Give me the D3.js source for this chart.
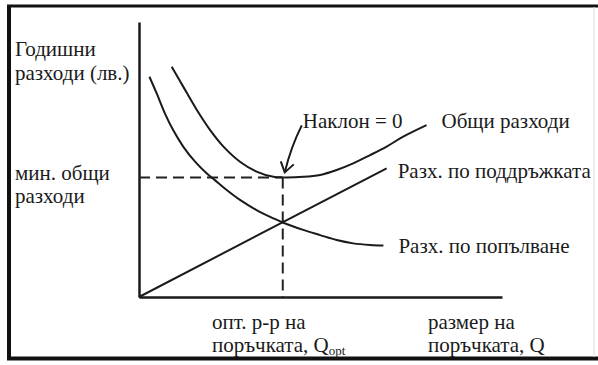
<!DOCTYPE html>
<html>
<head>
<meta charset="utf-8">
<script src="https://cdn.jsdelivr.net/npm/d3@7"></script>
<style>
  html, body { margin: 0; padding: 0; background: #fff; }
  svg { display: block; }
</style>
</head>
<body>
<div id="chart"></div>
<script>
// Q (order size) on x, annual cost on y
var totalQ = [0.91, 1.23, 1.61, 1.98, 2.35, 2.81, 3.27, 3.74, 4.00, 4.57, 5.04, 5.50, 5.96, 6.43, 6.89, 7.35, 8.00];
var totalC = [8.37, 7.65, 6.80, 6.07, 5.47, 4.92, 4.56, 4.37, 4.35, 4.37, 4.44, 4.62, 4.86, 5.16, 5.47, 5.83, 6.25];

var orderQ = [0.29, 0.49, 0.72, 0.95, 1.23, 1.56, 1.88, 2.11, 2.44, 2.81, 3.27, 3.74, 4.00, 4.57, 5.04, 5.50, 5.96, 6.43, 6.80];
var orderC = [8.01, 7.41, 6.68, 6.07, 5.47, 4.92, 4.50, 4.25, 3.89, 3.53, 3.16, 2.86, 2.71, 2.44, 2.25, 2.07, 1.95, 1.89, 1.87];

var holdQ = [0, 6.89];
var holdC = [0, 4.68];

var qOpt = 4.0;
var minTotal = 4.35;

var yLabelLines = ['Годишни', 'разходи (лв.)'];
var minLabelLines = ['мин. общи', 'разходи'];
var optLabelLines = ['опт. р-р на', 'поръчката, Q'];
var xLabelLines = ['размер на', 'поръчката, Q'];

(function () {
    var W = 598, H = 365;
    var FONT = '"Liberation Serif", "Times New Roman", serif';

    var svg = d3.select('#chart').append('svg')
        .attr('width', W)
        .attr('height', H);

    // frame
    svg.append('line').attr('x1', 9).attr('x2', 9).attr('y1', 5).attr('y2', 360)
        .attr('stroke', '#111').attr('stroke-width', 4);
    svg.append('line').attr('x1', 7).attr('x2', 598).attr('y1', 6).attr('y2', 6)
        .attr('stroke', '#111').attr('stroke-width', 3);
    svg.append('line').attr('x1', 7).attr('x2', 598).attr('y1', 358.5).attr('y2', 358.5)
        .attr('stroke', '#111').attr('stroke-width', 4);
    svg.append('line').attr('x1', 594).attr('x2', 594).attr('y1', 7).attr('y2', 357)
        .attr('stroke', '#ddd').attr('stroke-width', 1);

    var x = d3.scaleLinear().domain([0, 10.1]).range([139, 502]);
    var y = d3.scaleLinear().domain([0, 10]).range([297, 22]);

    // axes without ticks
    var gx = svg.append('g')
        .attr('transform', 'translate(0,' + y(0) + ')')
        .call(d3.axisBottom(x).ticks(0).tickSizeOuter(0));
    var gy = svg.append('g')
        .attr('transform', 'translate(' + x(0) + ',0)')
        .call(d3.axisLeft(y).ticks(0).tickSizeOuter(0));
    [gx, gy].forEach(function (g) {
        g.select('.domain').attr('stroke', '#1a1a1a').attr('stroke-width', 2.5);
    });

    // dashed guides
    svg.append('line')
        .attr('x1', x(0)).attr('x2', x(qOpt))
        .attr('y1', y(minTotal)).attr('y2', y(minTotal))
        .attr('stroke', '#222').attr('stroke-width', 2).attr('stroke-dasharray', '11,6');
    svg.append('line')
        .attr('x1', x(qOpt)).attr('x2', x(qOpt))
        .attr('y1', y(minTotal)).attr('y2', y(0))
        .attr('stroke', '#222').attr('stroke-width', 2).attr('stroke-dasharray', '11,6');

    var line = d3.line()
        .curve(d3.curveCatmullRom.alpha(0.5))
        .x(function (d) { return x(d[0]); })
        .y(function (d) { return y(d[1]); });

    function zip(a, b) { return a.map(function (v, i) { return [v, b[i]]; }); }

    var total = zip(totalQ, totalC);
    var order = zip(orderQ, orderC);
    var hold = zip(holdQ, holdC);

    [total, order, hold].forEach(function (s) {
        svg.append('path')
            .datum(s)
            .attr('fill', 'none')
            .attr('stroke', '#1a1a1a')
            .attr('stroke-width', 2)
            .attr('d', line);
    });

    function label(x0, y0) {
        return svg.append('text')
            .attr('x', x0).attr('y', y0)
            .style('font-family', FONT)
            .style('font-size', '21px')
            .style('fill', '#1a1a1a');
    }

    function multiLine(lines, x0, y0, dy) {
        var t = label(x0, y0);
        lines.forEach(function (s, i) {
            t.append('tspan').attr('x', x0).attr('y', y0 + i * dy).text(s);
        });
        return t;
    }

    multiLine(yLabelLines, 15, 56, 24);
    multiLine(minLabelLines, 15, y(minTotal) + 3, 23);

    // x labels with subscript
    var t1 = multiLine(optLabelLines, 212, 329, 23);
    t1.append('tspan').attr('dy', 3).style('font-size', '13px').text('opt');
    multiLine(xLabelLines, 428, 329, 23);

    // curve labels next to line ends
    var tEnd = total[total.length - 1];
    label(x(tEnd[0]) + 15, y(tEnd[1]) + 3).text('Общи разходи');
    var hEnd = hold[hold.length - 1];
    label(x(hEnd[0]) + 11, y(hEnd[1]) + 10).text('Разх. по поддръжката');
    var oEnd = order[order.length - 1];
    label(x(oEnd[0]) + 15, y(oEnd[1]) + 7).text('Разх. по попълване');

    // slope annotation with arrow
    var tipX = x(qOpt) + 2, tipY = y(minTotal) - 5;
    label(tipX + 18, tipY - 44).text('Наклон = 0');
    svg.append('path')
        .attr('d', 'M' + (tipX + 17) + ',' + (tipY - 47) +
            ' Q' + (tipX + 6) + ',' + (tipY - 25) + ' ' + tipX + ',' + tipY)
        .attr('fill', 'none').attr('stroke', '#1a1a1a').attr('stroke-width', 2);
    svg.append('path')
        .attr('d', 'M' + (tipX - 4) + ',' + (tipY - 11) + ' L' + tipX + ',' + tipY +
            ' L' + (tipX + 9) + ',' + (tipY - 8))
        .attr('fill', 'none').attr('stroke', '#1a1a1a').attr('stroke-width', 2);
})();
</script>
</body>
</html>
